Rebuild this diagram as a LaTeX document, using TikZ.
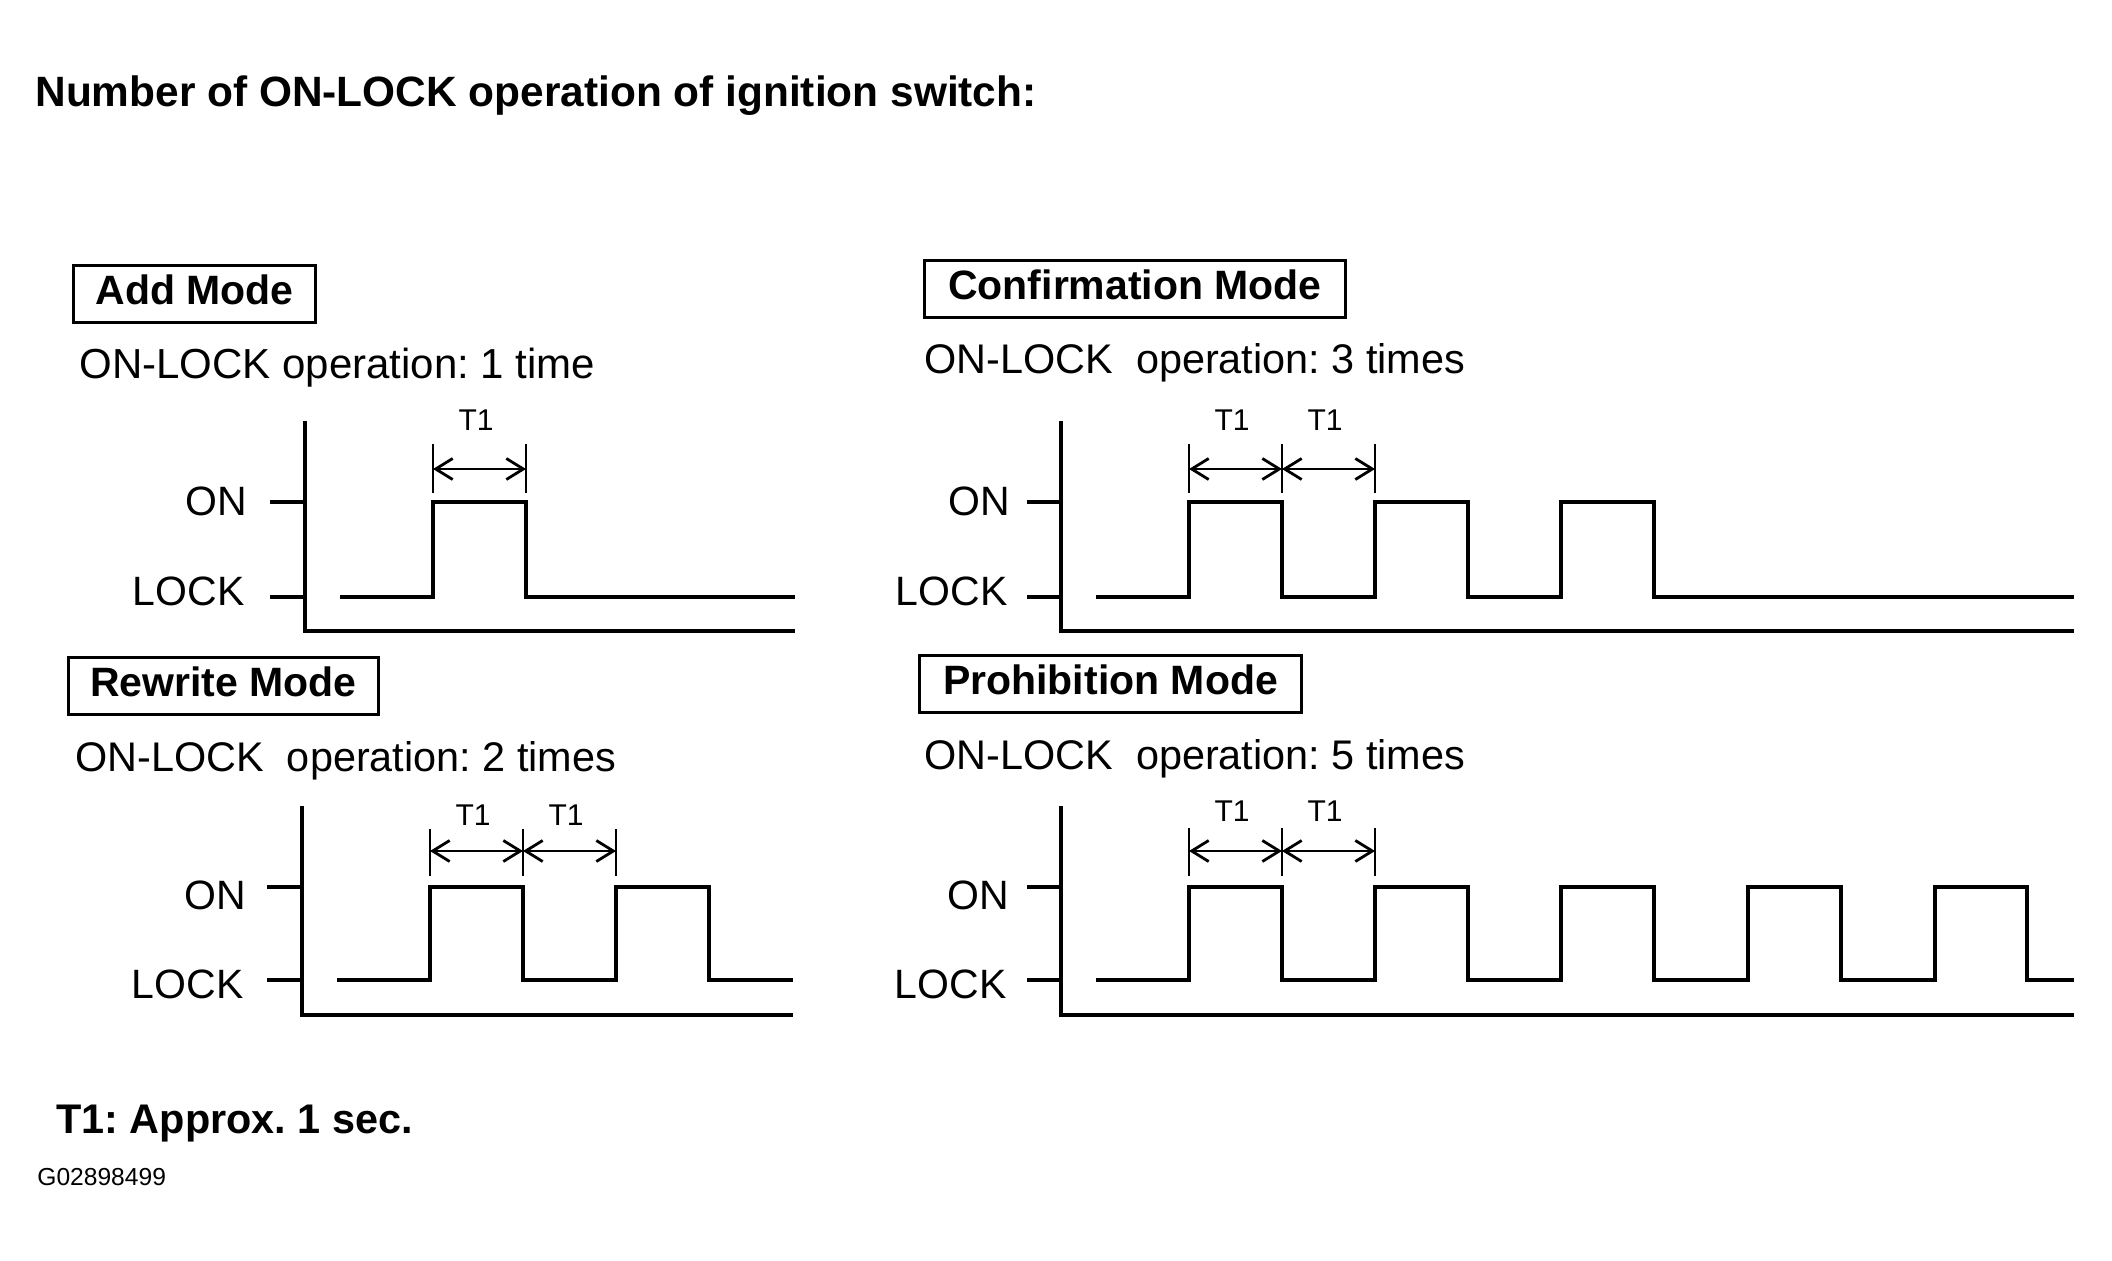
\documentclass[tikz,border=0pt]{standalone}
\usepackage{fontspec}
\setmainfont{Liberation Sans}
\usetikzlibrary{arrows.meta}
\frenchspacing
\begin{document}
\begin{tikzpicture}[x=0.5pt,y=-0.5pt,
  wave/.style={line width=1.6pt, line join=miter},
  axisline/.style={line width=1.6pt, line join=miter},
  dimtick/.style={line width=1.4pt},
  dimarrow/.style={line width=1.4pt, {Straight Barb[length=8.5pt,width=10.5pt]}-{Straight Barb[length=8.5pt,width=10.5pt]}},
  modebox/.style={draw, line width=1.5pt, font=\fontsize{20.5}{24}\selectfont\bfseries,
    minimum height=28.5pt, inner xsep=0pt, inner ysep=0pt, text height=11pt, text depth=0pt, anchor=west},
  txt/.style={font=\fontsize{20.7}{24}\selectfont, inner sep=0pt, anchor=base west},
  lvl/.style={font=\fontsize{20.5}{24}\selectfont, inner sep=0pt, anchor=base east},
  tlab/.style={font=\fontsize{15}{18}\selectfont, inner sep=0pt, anchor=base},
]
\useasboundingbox[fill=white] (0,0) rectangle (2112,1261);

% title
\node[txt, font=\fontsize{21.2}{25}\selectfont\bfseries] (title) at (35,106.5) {Number of ON-LOCK operation of ignition switch:};

% ---------------- Add Mode ----------------
\node[modebox, minimum width=121pt] (addbox) at (72,294) {Add Mode};
\node[txt, font=\fontsize{21}{24}\selectfont] (addsub) at (79,378.5) {ON-LOCK operation: 1 time};
\node[lvl] (addon) at (247,515) {ON};
\node[lvl] (addlock) at (245,605) {LOCK};
\draw[axisline] (305,421) -- (305,631) -- (795,631);
\draw[axisline] (270,502) -- (305,502);
\draw[axisline] (270,597) -- (305,597);
\draw[wave] (340,597) -| (433,502) -| (526,597) -- (795,597);
\coordinate (A0) at (433,469);
\coordinate (A1) at (526,469);
\draw[dimtick] (433,444) -- (433,493);
\draw[dimtick] (526,444) -- (526,493);
\draw[dimarrow] (A0) -- (A1);
\node[tlab] (addt1) at (476,430) {T1};

% ---------------- Confirmation Mode ----------------
\node[modebox, minimum width=210.5pt] (confbox) at (923,289) {Confirmation Mode};
\node[txt] (confsub) at (924,374) {ON-LOCK\ \ operation: 3 times};
\node[lvl] (confon) at (1010,515) {ON};
\node[lvl] (conflock) at (1008,605) {LOCK};
\draw[axisline] (1061,421) -- (1061,631) -- (2074,631);
\draw[axisline] (1027,502) -- (1061,502);
\draw[axisline] (1027,597) -- (1061,597);
\draw[wave] (1096,597) -| (1189,502) -| (1282,597) -| (1375,502) -| (1468,597) -| (1561,502) -| (1654,597) -- (2074,597);
\coordinate (B0) at (1189,469);
\coordinate (B1) at (1282,469);
\coordinate (B2) at (1375,469);
\foreach \xx in {1189,1282,1375} \draw[dimtick] (\xx,444) -- (\xx,493);
\draw[dimarrow] (B0) -- (B1);
\draw[dimarrow] (B1) -- (B2);
\node[tlab] (conft1a) at (1232,430) {T1};
\node[tlab] (conft1b) at (1325,430) {T1};

% ---------------- Rewrite Mode ----------------
\node[modebox, minimum width=155pt] (rewbox) at (67,685.5) {Rewrite Mode};
\node[txt] (rewsub) at (75,771) {ON-LOCK\ \ operation: 2 times};
\node[lvl] (rewon) at (246,909) {ON};
\node[lvl] (rewlock) at (244,998) {LOCK};
\draw[axisline] (302,806) -- (302,1015) -- (793,1015);
\draw[axisline] (267,887) -- (302,887);
\draw[axisline] (267,980) -- (302,980);
\draw[wave] (337,980) -| (430,887) -| (523,980) -| (616,887) -| (709,980) -- (793,980);
\coordinate (C0) at (430,851);
\coordinate (C1) at (523,851);
\coordinate (C2) at (616,851);
\foreach \xx in {430,523,616} \draw[dimtick] (\xx,829) -- (\xx,876);
\draw[dimarrow] (C0) -- (C1);
\draw[dimarrow] (C1) -- (C2);
\node[tlab] (rewt1a) at (473,825) {T1};
\node[tlab] (rewt1b) at (566,825) {T1};

% ---------------- Prohibition Mode ----------------
\node[modebox, minimum width=191pt] (probox) at (918,683.5) {Prohibition Mode};
\node[txt] (prosub) at (924,769) {ON-LOCK\ \ operation: 5 times};
\node[lvl] (proon) at (1009,909) {ON};
\node[lvl] (prolock) at (1007,998) {LOCK};
\draw[axisline] (1061,806) -- (1061,1015) -- (2074,1015);
\draw[axisline] (1027,887) -- (1061,887);
\draw[axisline] (1027,980) -- (1061,980);
\draw[wave] (1096,980) -| (1189,887) -| (1282,980) -| (1375,887) -| (1468,980) -| (1561,887) -| (1654,980)
  -| (1748,887) -| (1841,980) -| (1935,887) -| (2027,980) -- (2074,980);
\coordinate (D0) at (1189,851);
\coordinate (D1) at (1282,851);
\coordinate (D2) at (1375,851);
\foreach \xx in {1189,1282,1375} \draw[dimtick] (\xx,828) -- (\xx,876);
\draw[dimarrow] (D0) -- (D1);
\draw[dimarrow] (D1) -- (D2);
\node[tlab] (prot1a) at (1232,821) {T1};
\node[tlab] (prot1b) at (1325,821) {T1};

% footer
\node[txt, font=\fontsize{20.7}{24}\selectfont\bfseries] (note) at (56,1133) {T1: Approx. 1 sec.};
\node[txt, font=\fontsize{12.3}{14}\selectfont] (code) at (37,1185) {G02898499};
\end{tikzpicture}
\end{document}
